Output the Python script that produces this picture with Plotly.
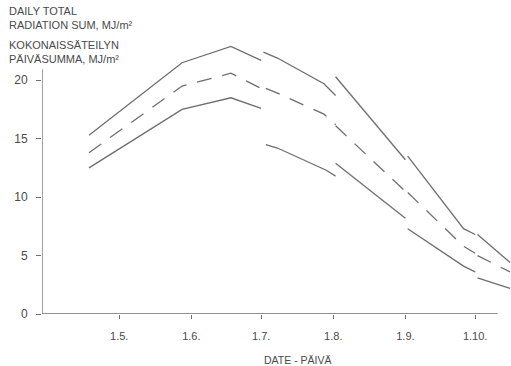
import plotly.graph_objects as go

# x values are day-of-year; None separates the separately drawn monthly segments
upper_days = [108, 148, 169, 182, None, 183, 189, 209, 214, None, 214, 244, None, 245, 269, 274, None, 275, 289]
upper_vals = [15.3, 21.5, 22.9, 21.7, None, 22.4, 21.9, 19.7, 18.7, None, 20.3, 13.2, None, 13.5, 7.3, 6.8, None, 6.8, 4.4]

mean_days = [108, 148, 169, 182, None, 184, 189, 209, 214, None, 214, 244, None, 245, 269, 274, None, 275, 289]
mean_vals = [13.8, 19.5, 20.6, 19.3, None, 19.3, 18.9, 17.1, 16.2, None, 16.1, 10.5, None, 10.4, 5.8, 5.2, None, 5.0, 3.6]

lower_days = [108, 148, 169, 182, None, 184, 189, 210, 214, None, 214, 244, None, 245, 269, 274, None, 275, 289]
lower_vals = [12.5, 17.5, 18.5, 17.6, None, 14.5, 14.2, 12.3, 11.8, None, 12.9, 8.2, None, 7.3, 4.1, 3.6, None, 3.1, 2.2]

tick_days = [121, 152, 182, 213, 244, 274]
tick_labels = ["1.5.", "1.6.", "1.7.", "1.8.", "1.9.", "1.10."]
y_ticks = [0, 5, 10, 15, 20]

LINE = "#6e6e6e"
TEXT = "#4a4a4a"
FONT = "Liberation Sans, Arial, sans-serif"

X0, X_AXIS_END, X1 = 87.8, 283.6, 289.4
Y_AXIS_TOP, Y_TOP = 20.95, 23.7

fig = go.Figure()
fig.add_trace(go.Scatter(x=upper_days, y=upper_vals, mode="lines", connectgaps=False,
                         line=dict(color=LINE, width=1.3), showlegend=False))
fig.add_trace(go.Scatter(x=mean_days, y=mean_vals, mode="lines", connectgaps=False,
                         line=dict(color=LINE, width=1.3, dash="15px,11px"), showlegend=False))
fig.add_trace(go.Scatter(x=lower_days, y=lower_vals, mode="lines", connectgaps=False,
                         line=dict(color=LINE, width=1.3), showlegend=False))

fig.update_layout(
    width=511, height=366,
    margin=dict(l=42, r=0, t=37, b=52),
    paper_bgcolor="white", plot_bgcolor="white",
    font=dict(family=FONT, color=TEXT),
    xaxis=dict(range=[X0, X1], tickvals=tick_days, ticktext=tick_labels,
               showgrid=False, zeroline=False, showline=False,
               ticks="outside", ticklen=4, tickwidth=1.2, tickcolor=LINE,
               tickfont=dict(size=11, color=TEXT), ticklabelstandoff=8),
    yaxis=dict(range=[0, Y_TOP], tickvals=y_ticks, showgrid=False, zeroline=False,
               showline=False,
               ticks="outside", ticklen=5, tickwidth=1.2, tickcolor=LINE,
               tickfont=dict(size=12, color=TEXT), ticklabelstandoff=6),
    shapes=[
        dict(type="line", xref="x", yref="y", x0=X0, x1=X_AXIS_END, y0=0, y1=0,
             line=dict(color=LINE, width=1.3)),
        dict(type="line", xref="x", yref="y", x0=X0, x1=X0, y0=0, y1=Y_AXIS_TOP,
             line=dict(color=LINE, width=1.3)),
    ],
)

def ann(text, x, y, size, xanchor="left"):
    fig.add_annotation(text=text, xref="paper", yref="paper", x=x, y=y,
                       xanchor=xanchor, yanchor="middle", showarrow=False,
                       font=dict(size=size, color=TEXT, family=FONT))

ann("DAILY TOTAL", -0.0746, 1.094, 11)
ann("RADIATION SUM, MJ/m²", -0.0746, 1.043, 11)
ann("KOKONAISSÄTEILYN", -0.0746, 0.971, 11)
ann("PÄIVÄSUMMA, MJ/m²", -0.0746, 0.921, 11)
ann("DATE - PÄIVÄ", 0.545, -0.166, 10.5, xanchor="center")

fig.write_html("out.html")
